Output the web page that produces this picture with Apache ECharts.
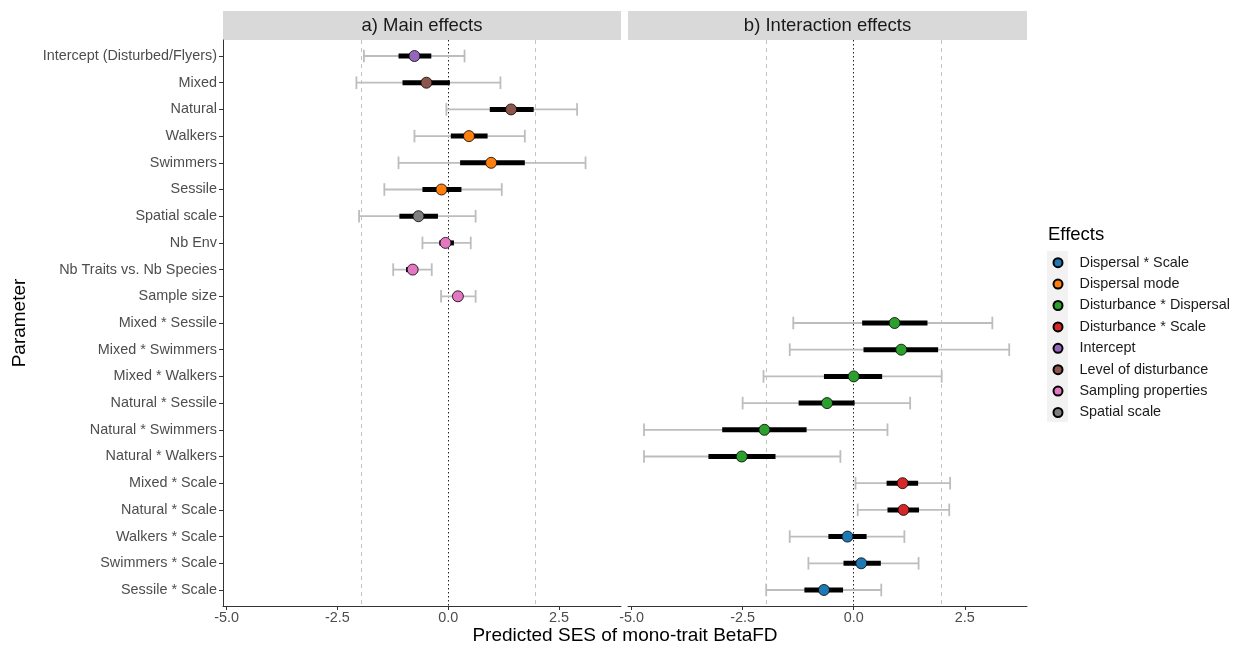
<!DOCTYPE html>
<html>
<head>
<meta charset="utf-8">
<script src="https://cdn.jsdelivr.net/npm/echarts@6/dist/echarts.min.js"></script>
<style>
html,body{margin:0;padding:0;background:#fff;}
#chart{width:1241px;height:652px;}
</style>
</head>
<body>
<div id="chart"></div>
<script>
// ---------------- data ----------------
const categories = [
  "Intercept (Disturbed/Flyers)","Mixed","Natural","Walkers","Swimmers","Sessile",
  "Spatial scale","Nb Env","Nb Traits vs. Nb Species","Sample size",
  "Mixed * Sessile","Mixed * Swimmers","Mixed * Walkers","Natural * Sessile",
  "Natural * Swimmers","Natural * Walkers","Mixed * Scale","Natural * Scale",
  "Walkers * Scale","Swimmers * Scale","Sessile * Scale"
];
const groups = [
  "Intercept","Level of disturbance","Level of disturbance","Dispersal mode","Dispersal mode","Dispersal mode",
  "Spatial scale","Sampling properties","Sampling properties","Sampling properties",
  "Disturbance * Dispersal","Disturbance * Dispersal","Disturbance * Dispersal","Disturbance * Dispersal",
  "Disturbance * Dispersal","Disturbance * Dispersal","Disturbance * Scale","Disturbance * Scale",
  "Dispersal * Scale","Dispersal * Scale","Dispersal * Scale"
];
const panel = [0,0,0,0,0,0,0,0,0,0, 1,1,1,1,1,1,1,1,1,1,1];
const estimate = [-0.76,-0.49,1.42,0.47,0.97,-0.15,-0.67,-0.06,-0.80,0.22, 0.92,1.07,0.00,-0.60,-2.01,-2.52,1.10,1.12,-0.14,0.17,-0.67];
const lo95 = [-1.90,-2.07,-0.04,-0.76,-1.12,-1.44,-2.01,-0.58,-1.24,-0.16, -1.36,-1.44,-2.03,-2.50,-4.72,-4.72,0.04,0.09,-1.44,-1.02,-1.97];
const hi95 = [0.37,1.18,2.91,1.73,3.10,1.21,0.62,0.51,-0.37,0.62, 3.12,3.50,1.98,1.27,0.76,-0.30,2.17,2.15,1.14,1.46,0.62];
const lo50 = [-1.12,-1.03,0.94,0.06,0.27,-0.58,-1.10,-0.20,-0.95,0.12, 0.19,0.22,-0.67,-1.24,-2.96,-3.27,0.74,0.76,-0.57,-0.23,-1.11];
const hi50 = [-0.38,0.04,1.93,0.89,1.73,0.30,-0.23,0.13,-0.68,0.32, 1.66,1.90,0.64,0.02,-1.06,-1.76,1.45,1.47,0.29,0.61,-0.24];
const groupOrder = ["Dispersal * Scale","Dispersal mode","Disturbance * Dispersal","Disturbance * Scale","Intercept","Level of disturbance","Sampling properties","Spatial scale"];
const groupColors = ["#1f77b4","#ff7f0e","#2ca02c","#d62728","#9467bd","#8c564b","#e377c2","#7f7f7f"];
const panelTitles = ["a) Main effects","b) Interaction effects"];
const xTicks = [-5, -2.5, 0, 2.5];
const refLines = [-1.96, 0, 1.96];
const xTitle = "Predicted SES of mono-trait BetaFD";
const yTitle = "Parameter";
const legendTitle = "Effects";

// ---------------- layout ----------------
const FONT = "Liberation Sans, Arial, sans-serif";
const xMin = -5.08, xMax = 3.9;
const grids = [
  {left: 223, top: 40, width: 398, height: 566},
  {left: 628, top: 40, width: 399, height: 566}
];
const rowIdx = categories.map((_, i) => i);

const xAxes = grids.map((g, p) => ({
  type: 'value', gridIndex: p, min: xMin, max: xMax,
  splitLine: {show: false},
  axisLine: {show: true, onZero: false, lineStyle: {color: '#333', width: 1}},
  axisTick: {show: true, customValues: xTicks, length: 4, lineStyle: {color: '#333'}},
  axisLabel: {customValues: xTicks, formatter: v => v.toFixed(1), color: '#4d4d4d',
              fontSize: 14.4, fontFamily: FONT, margin: 5}
}));
const yAxes = grids.map((g, p) => ({
  type: 'value', gridIndex: p, min: -0.6, max: 20.6, inverse: true,
  splitLine: {show: false},
  axisLine: {show: p === 0, onZero: false, lineStyle: {color: '#333', width: 1}},
  axisTick: {show: p === 0, customValues: rowIdx, length: 4, lineStyle: {color: '#333'}},
  axisLabel: {show: p === 0, customValues: rowIdx, formatter: v => categories[Math.round(v)] || '',
              color: '#4d4d4d', fontSize: 14.4, fontFamily: FONT, margin: 6}
}));

const series = [];
// error bars + reference lines per panel
[0, 1].forEach(p => {
  const data = [];
  categories.forEach((c, i) => {
    if (panel[i] === p) data.push([i, lo95[i], hi95[i], lo50[i], hi50[i]]);
  });
  series.push({
    type: 'custom', xAxisIndex: p, yAxisIndex: p, z: 2, silent: true,
    encode: {x: [1, 2, 3, 4], y: 0},
    data: data,
    renderItem: (params, api) => {
      const y = api.value(0);
      const a = api.coord([api.value(1), y]);
      const b = api.coord([api.value(2), y]);
      const c = api.coord([api.value(3), y]);
      const d = api.coord([api.value(4), y]);
      const h = 6.3;
      const grey = {stroke: '#bdbdbd', lineWidth: 1.8};
      return {type: 'group', children: [
        {type: 'line', shape: {x1: a[0], y1: a[1], x2: b[0], y2: b[1]}, style: grey},
        {type: 'line', shape: {x1: a[0], y1: a[1] - h, x2: a[0], y2: a[1] + h}, style: grey},
        {type: 'line', shape: {x1: b[0], y1: b[1] - h, x2: b[0], y2: b[1] + h}, style: grey},
        {type: 'line', shape: {x1: c[0], y1: c[1], x2: d[0], y2: d[1]}, style: {stroke: '#000', lineWidth: 5}}
      ]};
    },
    markLine: {
      silent: true, symbol: 'none', label: {show: false}, z: 1,
      data: refLines.map(v => ({
        xAxis: v,
        lineStyle: v === 0 ? {type: [1.5, 2.5], color: '#222', width: 1}
                           : {type: [4, 4], color: '#c4c4c4', width: 1}
      }))
    }
  });
});
// points per group
groupOrder.forEach((g, k) => {
  const data = [];
  let p = 0;
  categories.forEach((c, i) => {
    if (groups[i] === g) { data.push([estimate[i], i]); p = panel[i]; }
  });
  series.push({
    name: g, type: 'scatter', xAxisIndex: p, yAxisIndex: p, z: 5,
    symbol: 'circle', symbolSize: 11,
    itemStyle: {color: groupColors[k], borderColor: '#000', borderWidth: 0.8, opacity: 1},
    data: data
  });
});

const chart = echarts.init(document.getElementById('chart'), null, {renderer: 'canvas'});
chart.setOption({
  backgroundColor: '#fff',
  animation: false,
  grid: grids.map(g => Object.assign({containLabel: false}, g)),
  xAxis: xAxes,
  yAxis: yAxes,
  legend: {
    data: groupOrder, orient: 'vertical', left: 1052.5, top: 255.7, padding: 0,
    icon: 'circle', itemWidth: 9, itemHeight: 9, itemGap: 7.4,
    selectedMode: false,
    textStyle: {fontSize: 14.4, fontFamily: FONT, color: '#1a1a1a', lineHeight: 14, padding: [0, 0, 0, 12]}
  },
  graphic: [
    {type: 'rect', shape: {x: grids[0].left, y: 11, width: grids[0].width, height: 29}, style: {fill: '#d9d9d9'}, silent: true},
    {type: 'rect', shape: {x: grids[1].left, y: 11, width: grids[1].width, height: 29}, style: {fill: '#d9d9d9'}, silent: true},
    {type: 'text', x: grids[0].left + grids[0].width / 2, y: 25.5, style: {text: panelTitles[0], fontSize: 18.5, fontFamily: FONT, fill: '#1a1a1a', align: 'center', verticalAlign: 'middle'}},
    {type: 'text', x: grids[1].left + grids[1].width / 2, y: 25.5, style: {text: panelTitles[1], fontSize: 18.5, fontFamily: FONT, fill: '#1a1a1a', align: 'center', verticalAlign: 'middle'}},
    {type: 'text', x: 625, y: 636, style: {text: xTitle, fontSize: 19, fontFamily: FONT, fill: '#000', align: 'center', verticalAlign: 'middle'}},
    {type: 'text', x: 20, y: 323, rotation: Math.PI / 2, style: {text: yTitle, fontSize: 19, fontFamily: FONT, fill: '#000', align: 'center', verticalAlign: 'middle'}},
    {type: 'text', x: 1048, y: 235, style: {text: legendTitle, fontSize: 18.5, fontFamily: FONT, fill: '#000', align: 'left', verticalAlign: 'middle'}},
    {type: 'rect', z: -10, shape: {x: 1047, y: 251, width: 21, height: 171}, style: {fill: '#f2f2f2'}, silent: true}
  ],
  series: series
});
</script>
</body>
</html>
